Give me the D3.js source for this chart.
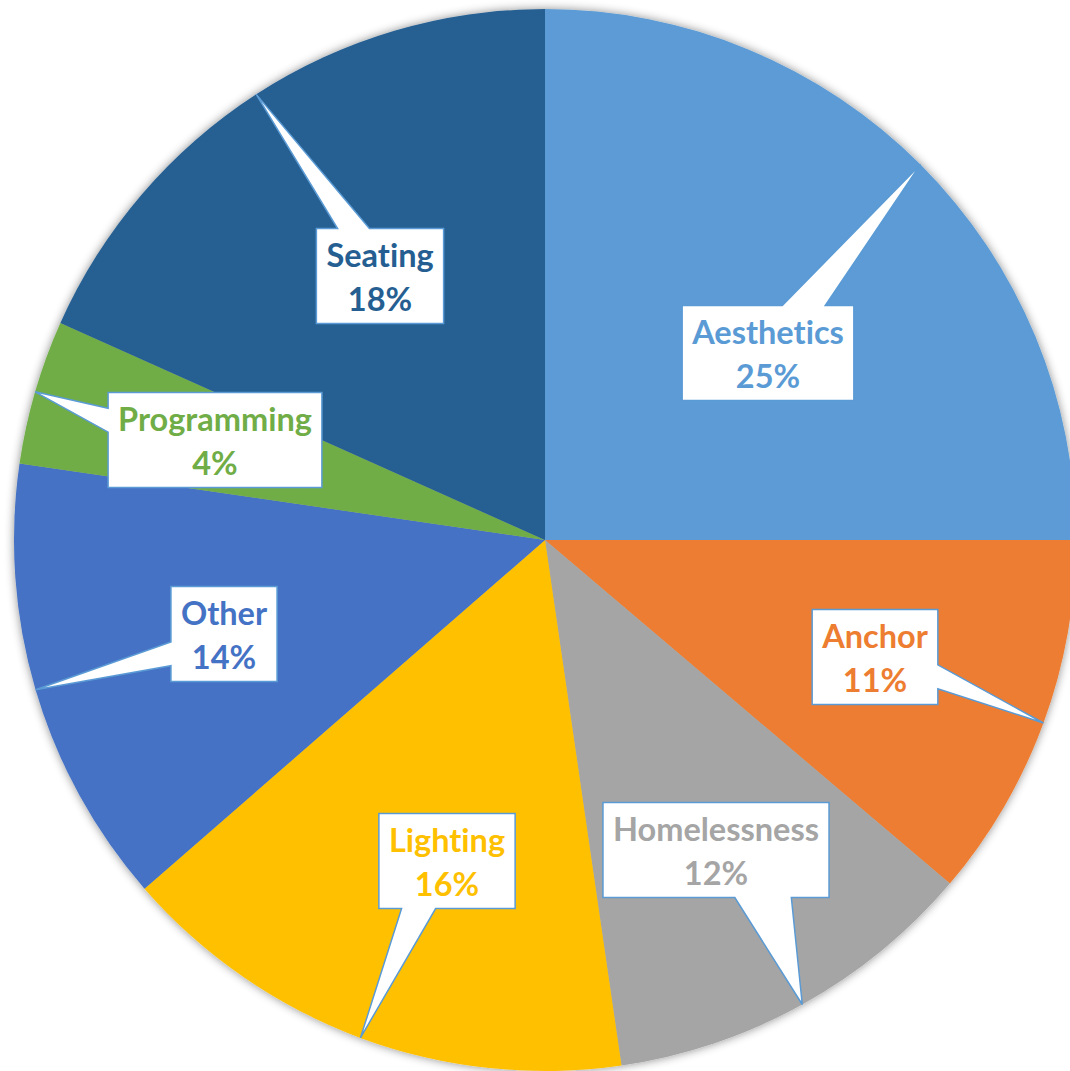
<!DOCTYPE html>
<html>
<head>
<meta charset="utf-8">
<script src="https://cdn.jsdelivr.net/npm/d3@7/dist/d3.min.js"></script>
<style>
  html, body { margin: 0; padding: 0; background: #ffffff; }
  svg { display: block; }
  text { font-variant-ligatures: none; font-feature-settings: "liga" 0, "clig" 0; }
</style>
</head>
<body>
<svg id="chart" width="1070" height="1071"></svg>
<script>
// ---- data ----
const categories = ["Aesthetics", "Anchor", "Homelessness", "Lighting", "Other", "Programming", "Seating"];
const values = [25.0, 11.2, 11.5, 15.9, 13.7, 4.4, 18.3];
const percentLabels = ["25%", "11%", "12%", "16%", "14%", "4%", "18%"];
const colors = ["#5B9BD5", "#ED7D31", "#A5A5A5", "#FFC000", "#4472C4", "#70AD47", "#255E91"];

// ---- layout (label box centres relative to pie centre) ----
const labelOffsets = [[223, -187], [330, 117], [171, 310], [-98, 321], [-321, 94], [-330, -100], [-165, -264]];

const W = 1070, H = 1071;
const cx = 545, cy = 540, R = 531;
const fontSize = 32.5, boxH = 95, pad = 10;

const svg = d3.select("#chart");
const defs = svg.append("defs");
const f = defs.append("filter").attr("id", "shadow")
  .attr("x", "-10%").attr("y", "-10%").attr("width", "120%").attr("height", "120%");
f.append("feDropShadow").attr("dx", 0).attr("dy", 0).attr("stdDeviation", 5)
  .attr("flood-color", "#000").attr("flood-opacity", 0.45);

const data = categories.map((c, i) => ({ name: c, value: values[i], pct: percentLabels[i], color: colors[i], off: labelOffsets[i] }));

const pie = d3.pie().sort(null).value(d => d.value).startAngle(0).endAngle(2 * Math.PI);
const arcs = pie(data);
const arc = d3.arc().innerRadius(0).outerRadius(R);
const edge = d3.arc().innerRadius(R).outerRadius(R);

const g = svg.append("g").attr("transform", `translate(${cx},${cy})`);
g.append("g").attr("filter", "url(#shadow)")
  .selectAll("path").data(arcs).join("path")
  .attr("d", arc)
  .attr("fill", d => d.data.color);

function calloutPath(l, t, w, h, tx, ty) {
  const hc = l + w / 2, vc = t + h / 2;
  const dxPos = tx - hc, dyPos = ty - vc;
  const dq = dxPos * h / w;
  const dz = Math.abs(dyPos) - Math.abs(dq);
  const x1 = l + w * (dxPos > 0 ? 7 : 2) / 12, x2 = l + w * (dxPos > 0 ? 10 : 5) / 12;
  const y1 = t + h * (dyPos > 0 ? 7 : 2) / 12, y2 = t + h * (dyPos > 0 ? 10 : 5) / 12;
  const r = l + w, b = t + h;
  const p = d3.path();
  p.moveTo(l, t);
  if (dz > 0 && dyPos < 0) { p.lineTo(x1, t); p.lineTo(tx, ty); p.lineTo(x2, t); }
  p.lineTo(r, t);
  if (dz <= 0 && dxPos > 0) { p.lineTo(r, y1); p.lineTo(tx, ty); p.lineTo(r, y2); }
  p.lineTo(r, b);
  if (dz > 0 && dyPos > 0) { p.lineTo(x2, b); p.lineTo(tx, ty); p.lineTo(x1, b); }
  p.lineTo(l, b);
  if (dz <= 0 && dxPos < 0) { p.lineTo(l, y2); p.lineTo(tx, ty); p.lineTo(l, y1); }
  p.closePath();
  return p.toString();
}

const labels = g.append("g").selectAll("g").data(arcs).join("g");
labels.each(function (d) {
  const sel = d3.select(this);
  const [bx, by] = d.data.off;
  const shape = sel.append("path");
  const t1 = sel.append("text").attr("x", bx).attr("text-anchor", "middle")
    .attr("font-family", "Lato, 'Open Sans', sans-serif").attr("font-weight", "bold")
    .attr("font-size", fontSize).attr("fill", d.data.color).text(d.data.name);
  const t2 = sel.append("text").attr("x", bx).attr("text-anchor", "middle")
    .attr("font-family", "Lato, 'Open Sans', sans-serif").attr("font-weight", "bold")
    .attr("font-size", fontSize).attr("fill", d.data.color).text(d.data.pct);
  const tw = Math.max(t1.node().getComputedTextLength(), t2.node().getComputedTextLength());
  const w = tw + 2 * pad, h = boxH;
  const l = bx - w / 2, t = by - h / 2;
  t1.attr("y", t + 38);
  t2.attr("y", t + 82);
  const [tx, ty] = edge.centroid(d);
  shape.attr("d", calloutPath(l, t, w, h, tx, ty))
    .attr("fill", "#ffffff").attr("stroke", "#5B9BD5").attr("stroke-width", 1.5)
    .attr("stroke-linejoin", "miter");
});
</script>
</body>
</html>
